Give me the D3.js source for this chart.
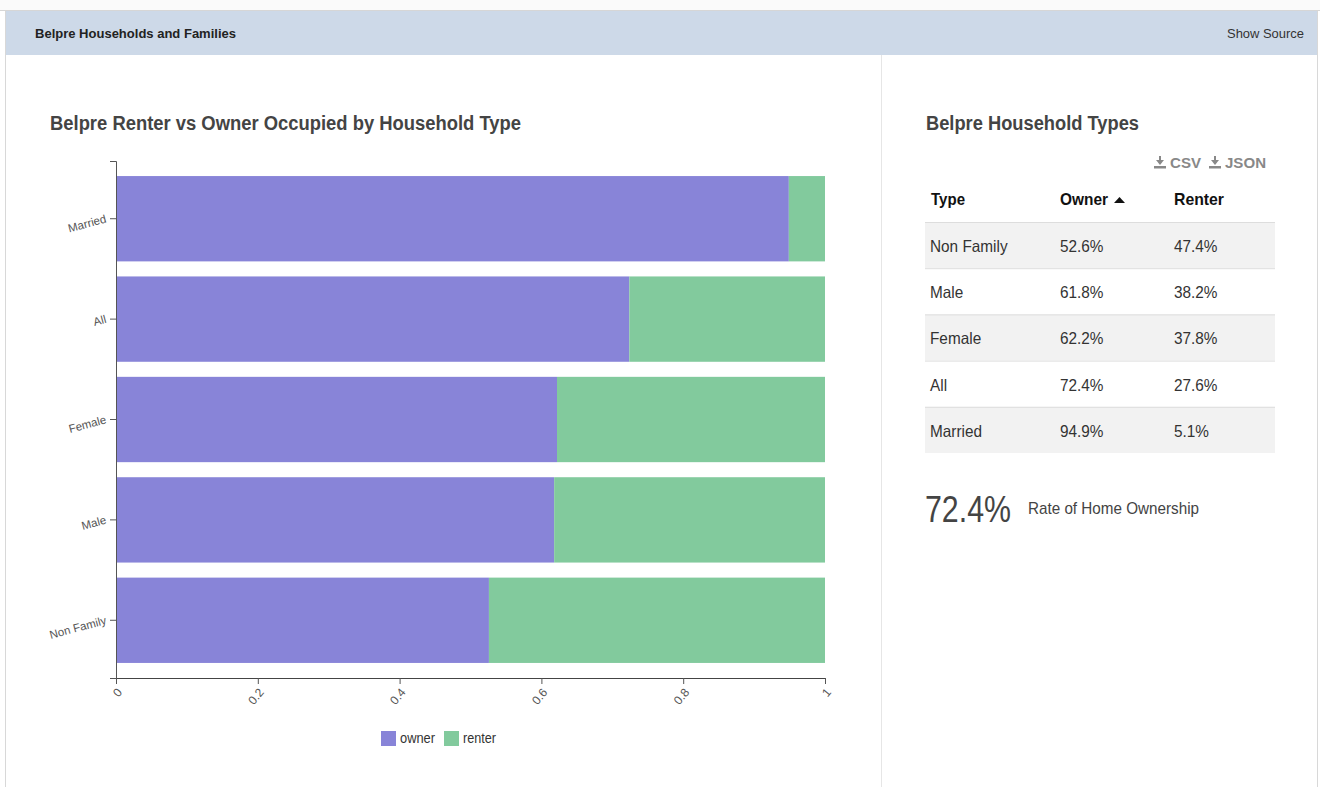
<!DOCTYPE html>
<html>
<head>
<meta charset="utf-8">
<script src="https://cdn.jsdelivr.net/npm/d3@7"></script>
<style>
  body { margin: 0; background: #fff; }
  text { font-family: "Liberation Sans", Arial, sans-serif; }
</style>
</head>
<body>
<div id="chart"></div>
<script>
// data
var types = ["Married", "All", "Female", "Male", "Non Family"];
var owner = [0.949, 0.724, 0.622, 0.618, 0.526];
var renter = [0.051, 0.276, 0.378, 0.382, 0.474];
var seriesKeys = ["owner", "renter"];
var seriesColors = ["#8884d8", "#82ca9d"];
var xTicks = [0, 0.2, 0.4, 0.6, 0.8, 1];

// table rows (sorted by owner asc)
var tableTypes = ["Non Family", "Male", "Female", "All", "Married"];
var tableOwner = ["52.6%", "61.8%", "62.2%", "72.4%", "94.9%"];
var tableRenter = ["47.4%", "38.2%", "37.8%", "27.6%", "5.1%"];
var ownershipRate = "72.4%";

var W = 1320, H = 787;
var svg = d3.select("#chart").append("svg")
    .attr("width", W).attr("height", H);

// page frame + header band
svg.append("rect").attr("x", 0).attr("y", 0).attr("width", W).attr("height", 10).attr("fill", "#fafafa");
svg.append("line").attr("x1", 0).attr("x2", W).attr("y1", 10.5).attr("y2", 10.5).attr("stroke", "#d6d6d6");
svg.append("rect").attr("x", 5).attr("y", 11).attr("width", 1313).attr("height", 44).attr("fill", "#cdd9e8");
svg.append("line").attr("x1", 5.5).attr("x2", 5.5).attr("y1", 11).attr("y2", H).attr("stroke", "#d8d8d8");
svg.append("line").attr("x1", 1317.5).attr("x2", 1317.5).attr("y1", 11).attr("y2", H).attr("stroke", "#d8d8d8");
svg.append("line").attr("x1", 881.5).attr("x2", 881.5).attr("y1", 55).attr("y2", H).attr("stroke", "#e6e6e6");

svg.append("text").attr("x", 35).attr("y", 38)
   .attr("font-size", "13px").attr("font-weight", "bold").attr("fill", "#222")
   .attr("textLength", 201).attr("lengthAdjust", "spacingAndGlyphs")
   .text("Belpre Households and Families");
svg.append("text").attr("x", 1304).attr("y", 38).attr("text-anchor", "end")
   .attr("font-size", "13px").attr("fill", "#333")
   .attr("textLength", 77).attr("lengthAdjust", "spacingAndGlyphs")
   .text("Show Source");

// chart title
svg.append("text").attr("x", 50).attr("y", 130)
   .attr("font-size", "20px").attr("font-weight", "bold").attr("fill", "#444")
   .attr("textLength", 471).attr("lengthAdjust", "spacingAndGlyphs")
   .text("Belpre Renter vs Owner Occupied by Household Type");

// chart
var margin = {left: 116, top: 161};
var width = 825 - 116, height = 678 - 161;
var g = svg.append("g").attr("transform", "translate(" + margin.left + "," + margin.top + ")");

var x = d3.scaleLinear().domain([0, 1]).range([0, width]);
var y = d3.scaleBand().domain(types).range([0, height]).paddingInner(0.15).paddingOuter(0.15);
var color = d3.scaleOrdinal().domain(seriesKeys).range(seriesColors);

var rows = types.map(function(t, i) { return {type: t, owner: owner[i], renter: renter[i]}; });
var stacked = d3.stack().keys(seriesKeys)(rows);

g.selectAll("g.layer")
  .data(stacked)
  .enter().append("g")
    .attr("class", "layer")
    .attr("fill", function(d) { return color(d.key); })
  .selectAll("rect")
  .data(function(d) { return d; })
  .enter().append("rect")
    .attr("x", function(d) { return x(d[0]); })
    .attr("y", function(d) { return y(d.data.type); })
    .attr("width", function(d) { return x(d[1]) - x(d[0]); })
    .attr("height", y.bandwidth());

// y axis
var yAxis = g.append("g").call(d3.axisLeft(y).tickSizeOuter(6));
yAxis.selectAll("path, line").attr("stroke", "#555");
yAxis.selectAll("text")
   .attr("font-size", "11.5px").attr("fill", "#555")
   .attr("x", -10).attr("dy", "0.32em")
   .attr("transform", function() { return "rotate(-15," + (-10) + ",0)"; });

// x axis
var xAxis = g.append("g").attr("transform", "translate(0," + height + ")")
   .call(d3.axisBottom(x).tickValues(xTicks).tickFormat(d3.format("")).tickSizeOuter(0));
xAxis.select(".domain").attr("stroke", "#444");
xAxis.selectAll("line").attr("stroke", "#555");
xAxis.selectAll("text")
   .attr("font-size", "12px").attr("fill", "#555")
   .attr("text-anchor", "end")
   .attr("x", 0).attr("y", 0).attr("dy", "0.35em")
   .attr("transform", "translate(3,12) rotate(-50)");

// legend
var legend = svg.append("g").attr("transform", "translate(381,731)");
var legItems = legend.selectAll("g").data(seriesKeys).enter().append("g")
   .attr("transform", function(d, i) { return "translate(" + (i * 63) + ",0)"; });
legItems.append("rect").attr("width", 15).attr("height", 15)
   .attr("fill", function(d) { return color(d); });
legItems.append("text").attr("x", 19).attr("y", 12)
   .attr("font-size", "14px").attr("fill", "#333")
   .attr("textLength", function(d) { return d === "owner" ? 35 : 33; })
   .attr("lengthAdjust", "spacingAndGlyphs")
   .text(function(d) { return d; });

// right panel
svg.append("text").attr("x", 926).attr("y", 130)
   .attr("font-size", "20px").attr("font-weight", "bold").attr("fill", "#444")
   .attr("textLength", 213).attr("lengthAdjust", "spacingAndGlyphs")
   .text("Belpre Household Types");

// download links
function dlIcon(cx, cy) {
  var ic = svg.append("g").attr("transform", "translate(" + cx + "," + cy + ")").attr("fill", "#888").attr("stroke", "#888");
  ic.append("line").attr("x1", 0).attr("x2", 0).attr("y1", -6).attr("y2", 1).attr("stroke-width", 2);
  ic.append("path").attr("d", "M-4,-2 L0,3 L4,-2 Z").attr("stroke", "none");
  ic.append("rect").attr("x", -6).attr("y", 4).attr("width", 12).attr("height", 2.5).attr("stroke", "none");
}
dlIcon(1160, 162);
svg.append("text").attr("x", 1170).attr("y", 168).attr("font-size", "14px").attr("font-weight", "bold")
   .attr("fill", "#888").attr("textLength", 31).attr("lengthAdjust", "spacingAndGlyphs").text("CSV");
dlIcon(1215, 162);
svg.append("text").attr("x", 1225).attr("y", 168).attr("font-size", "14px").attr("font-weight", "bold")
   .attr("fill", "#888").attr("textLength", 41).attr("lengthAdjust", "spacingAndGlyphs").text("JSON");

// table
var tx = 925, tw = 350, rowH = 46.2, bodyY = 222;
var colX = [931, 1060, 1174];
var headers = ["Type", "Owner", "Renter"];
var headLens = [34, 48, 50];
svg.selectAll("text.th").data(headers).enter().append("text")
   .attr("class", "th")
   .attr("x", function(d, i) { return colX[i]; }).attr("y", 205)
   .attr("font-size", "17px").attr("font-weight", "bold").attr("fill", "#111")
   .attr("textLength", function(d, i) { return headLens[i]; }).attr("lengthAdjust", "spacingAndGlyphs")
   .text(function(d) { return d; });
svg.append("path").attr("d", "M1114,203 L1125,203 L1119.5,197 Z").attr("fill", "#111");

var tbl = tableTypes.map(function(t, i) { return [t, tableOwner[i], tableRenter[i]]; });
var tr = svg.selectAll("g.tr").data(tbl).enter().append("g")
   .attr("class", "tr")
   .attr("transform", function(d, i) { return "translate(0," + (bodyY + i * rowH) + ")"; });
tr.append("rect").attr("x", tx).attr("y", 0).attr("width", tw).attr("height", rowH)
   .attr("fill", function(d, i) { return i % 2 === 0 ? "#f2f2f2" : "#fff"; });
tr.append("line").attr("x1", tx).attr("x2", tx + tw).attr("y1", 0.5).attr("y2", 0.5).attr("stroke", "#dddddd");
tr.selectAll("text").data(function(d) { return d; }).enter().append("text")
   .attr("x", function(d, i) { return colX[i] - (i === 0 ? 1 : 0); })
   .attr("y", 30)
   .attr("font-size", "16.5px").attr("fill", "#333")
   .each(function(d, i) {
     // narrow the glyphs a little, like the reference's condensed rendering
     var t = d3.select(this).text(d);
     var len = this.getComputedTextLength();
     t.attr("textLength", len * 0.93).attr("lengthAdjust", "spacingAndGlyphs");
   });

// ownership rate
svg.append("text").attr("x", 925).attr("y", 522)
   .attr("font-size", "36px").attr("fill", "#444")
   .attr("textLength", 86).attr("lengthAdjust", "spacingAndGlyphs")
   .text(ownershipRate);
svg.append("text").attr("x", 1028).attr("y", 514)
   .attr("font-size", "17px").attr("fill", "#444")
   .attr("textLength", 171).attr("lengthAdjust", "spacingAndGlyphs")
   .text("Rate of Home Ownership");
</script>
</body>
</html>
